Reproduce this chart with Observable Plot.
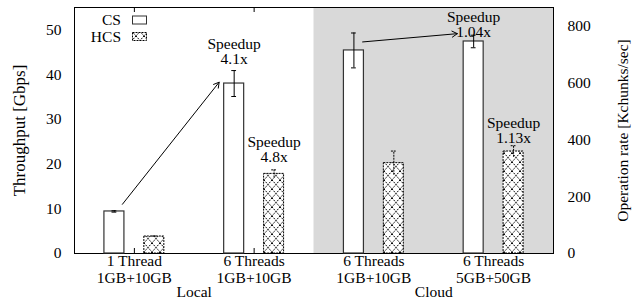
<!DOCTYPE html>
<html><head><meta charset="utf-8">
<script src="https://cdn.jsdelivr.net/npm/d3@7"></script>
<script src="https://cdn.jsdelivr.net/npm/@observablehq/plot@0.6"></script>
<style>body{margin:0;background:#fff;}</style>
</head><body><div id="chart"></div>
<script>
// ---- data ----
const groups = ["1 Thread\n1GB+10GB", "6 Threads\n1GB+10GB", "6 Threads\n1GB+10GB", "6 Threads\n5GB+50GB"];
const regions = [{label: "Local", from: 0, to: 1}, {label: "Cloud", from: 2, to: 3}];
const seriesNames = ["CS", "HCS"];
const csValues = [9.4, 38.0, 45.4, 47.4];
const csErrors = [0.15, 2.9, 3.9, 1.4];
const hcsValues = [3.8, 17.8, 20.2, 22.8];
const hcsErrors = [0.1, 0.9, 2.7, 1.3];
const leftTicks = [0, 10, 20, 30, 40, 50];
const rightTicks = [0, 200, 400, 600, 800];
const leftMax = 55;
const rightMax = 865;
const speedups = [
  {group: 1, series: "CS", text: "Speedup\n4.1x", y: 42.3},
  {group: 1, series: "HCS", text: "Speedup\n4.8x", y: 20.4},
  {group: 3, series: "CS", text: "Speedup\n1.04x", y: 48.4},
  {group: 3, series: "HCS", text: "Speedup\n1.13x", y: 24.6}
];
const arrows = [
  {x1: -0.1, y1: 11.0, x2: 0.708, y2: 38.3},
  {x1: 1.906, y1: 47.3, x2: 2.697, y2: 49.15}
];
const leftTitle = "Throughput [Gbps]";
const rightTitle = "Operation rate [Kchunks/sec]";

// ---- build ----
const offset = {CS: -1 / 6, HCS: 1 / 6};
const hw = 0.0835, cap = 0.02;
const rows = groups.flatMap((g, i) => [
  {i, series: "CS", value: csValues[i], err: csErrors[i]},
  {i, series: "HCS", value: hcsValues[i], err: hcsErrors[i]}
]);
const cs = rows.filter(d => d.series === "CS");
const hcs = rows.filter(d => d.series === "HCS");
const bx = d => d.i + offset[d.series];
const W = 636, H = 303, mL = 74, mR = 83, mT = 7, mB = 50;
const innerH = H - mT - mB;
const font = "'Liberation Serif', 'Times New Roman', serif";
const fs = 15.5;

const chart = Plot.plot({
  width: W, height: H,
  marginLeft: mL, marginRight: mR, marginTop: mT, marginBottom: mB,
  style: {fontFamily: font, fontSize: fs + "px", background: "white", color: "black"},
  x: {domain: [-0.5, 3.5], axis: null},
  y: {domain: [0, leftMax], axis: null},
  marks: [
    Plot.ruleX(groups.map((g, i) => i), {x: d => d, stroke: "black", insetTop: innerH - 5}),
    Plot.ruleX(groups.map((g, i) => i), {x: d => d, stroke: "black", insetBottom: innerH - 5}),
    Plot.rect(regions.filter(r => r.label === "Cloud"), {x1: r => r.from - 0.5, x2: r => r.to + 0.5, y1: 0, y2: leftMax, fill: "#d9d9d9"}),
    Plot.frame({stroke: "black", strokeWidth: 1}),
    Plot.rect(cs, {x1: d => bx(d) - hw, x2: d => bx(d) + hw, y1: 0, y2: "value", fill: "white", stroke: "#333", strokeWidth: 1.2}),
    Plot.rect(hcs, {x1: d => bx(d) - hw, x2: d => bx(d) + hw, y1: 0, y2: "value", fill: "url(#hatch)", stroke: "black", strokeWidth: 1, strokeDasharray: "2,1"}),
    Plot.ruleX(cs, {x: bx, y1: d => d.value - d.err, y2: d => d.value + d.err, stroke: "black"}),
    Plot.ruleY(cs, {y: d => d.value - d.err, x1: d => bx(d) - cap, x2: d => bx(d) + cap, stroke: "black"}),
    Plot.ruleY(cs, {y: d => d.value + d.err, x1: d => bx(d) - cap, x2: d => bx(d) + cap, stroke: "black"}),
    Plot.ruleX(hcs, {x: bx, y1: d => d.value - d.err, y2: d => d.value + d.err, stroke: "black", strokeDasharray: "2,1"}),
    Plot.ruleY(hcs, {y: d => d.value + d.err, x1: d => bx(d) - cap, x2: d => bx(d) + cap, stroke: "black", strokeDasharray: "2,1"}),
    Plot.arrow(arrows, {x1: "x1", y1: "y1", x2: "x2", y2: "y2", stroke: "black", strokeWidth: 1, headLength: 9}),
    Plot.text(speedups, {x: d => d.group + offset[d.series], y: "y", text: "text", lineAnchor: "bottom", lineHeight: 1.0, fill: "black"}),
    Plot.axisY(leftTicks, {anchor: "left", tickSize: 0, tickPadding: 13, fontSize: fs}),
    Plot.axisY(rightTicks.map(v => v / rightMax * leftMax), {anchor: "right", tickSize: 0, tickPadding: 14, fontSize: fs, tickFormat: d => String(Math.round(d * rightMax / leftMax))}),
    Plot.text(groups, {x: (d, i) => i, text: d => d, frameAnchor: "bottom", lineAnchor: "top", dy: 1, lineHeight: 1.07}),
    Plot.text(regions, {x: r => (r.from + r.to) / 2, text: "label", frameAnchor: "bottom", lineAnchor: "top", dy: 32}),
    Plot.text([leftTitle], {frameAnchor: "left", textAnchor: "middle", rotate: -90, dx: -55, fontSize: 17}),
    Plot.text([rightTitle], {frameAnchor: "right", textAnchor: "middle", rotate: -90, dx: 70})
  ]
});

const svg = d3.select(chart);
const defs = svg.insert("defs", ":first-child");
const pat = defs.append("pattern").attr("id", "hatch").attr("patternUnits", "userSpaceOnUse").attr("width", 8).attr("height", 9);
pat.append("rect").attr("width", 8).attr("height", 9).attr("fill", "white");
pat.append("path").attr("d", "M0,0L8,9M8,0L0,9").attr("stroke", "black").attr("stroke-width", 1).attr("stroke-dasharray", "1.5,1").attr("fill", "none");

// legend
const leg = svg.append("g").attr("font-family", font).attr("font-size", fs);
seriesNames.forEach((s, k) => {
  const cy = 20.5 + k * 16.5;
  leg.append("text").attr("x", 121).attr("y", cy).attr("dy", "0.32em").attr("text-anchor", "end").text(s);
  leg.append("rect").attr("x", 132.5).attr("y", cy - 4.5).attr("width", 14).attr("height", 8)
    .attr("fill", s === "CS" ? "white" : "url(#hatch)").attr("stroke", s === "CS" ? "#333" : "black")
    .attr("stroke-dasharray", s === "CS" ? null : "2,1");
});
document.getElementById("chart").appendChild(chart);
</script>
</body></html>
